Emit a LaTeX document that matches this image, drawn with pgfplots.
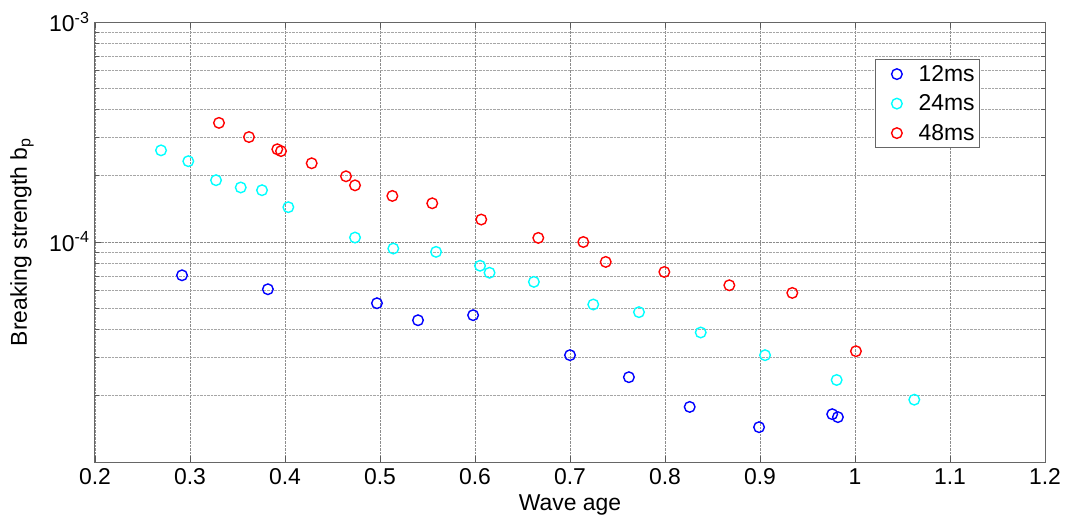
\documentclass[border=0pt]{standalone}
\usepackage{fontspec}
\setmainfont{Liberation Sans}
\usepackage{pgfplots}
\pgfplotsset{compat=1.18}
\definecolor{mblue}{rgb}{0,0,1}
\definecolor{mcyan}{rgb}{0,1,1}
\definecolor{mred}{rgb}{1,0,0}
\begin{document}
\begin{tikzpicture}
\begin{axis}[
  scale only axis,
  width=950bp, height=440bp,
  ymode=log,
  xmin=0.2, xmax=1.2, ymin=1e-5, ymax=1e-3,
  xtick={0.2,0.3,...,1.2},
  ytick={1e-5,1e-4,1e-3},
  yticklabels={,10\textsuperscript{-4},10\textsuperscript{-3}},
  /pgf/number format/assume math mode=true,
  font=\fontsize{23}{27}\selectfont,
  tick label style={font=\fontsize{23}{27}\selectfont},
  tick align=inside,
  major tick length=6bp, minor tick length=4bp,
  tick style={black!65, line width=0.8bp},
  axis line style={black!60, line width=1bp},
  grid=both,
  major grid style={densely dotted, black!45, line width=0.7bp},
  minor grid style={densely dotted, black!35, line width=0.7bp},
  every axis x label/.style={at={(axis description cs:0.5,0)}, yshift=-43bp, anchor=center},
  every axis y label/.style={at={(axis description cs:0,0.5)}, xshift=-73bp, anchor=center, rotate=90},
  xlabel={Wave age},
  ylabel={Breaking strength b\textsubscript{p}},
  xticklabel style={yshift=-3bp},
  yticklabel style={xshift=-2bp},
  legend style={at={(rel axis cs:0.9316,0.916)}, anchor=north east, draw=black!60, line width=0.8bp, fill=white, font=\fontsize{23}{27}\selectfont, row sep=8bp, inner xsep=3bp, inner ysep=4bp, nodes={inner sep=2bp}, column sep=0bp},
  legend cell align=left,
  legend image code/.code={\path (0bp,0bp) (37bp,0bp); \draw[#1] plot coordinates {(18bp,0bp)};},
  every axis plot/.append style={only marks, mark=o, mark size=5.3bp, line width=1.4bp},
]
\addplot[mblue] coordinates {
(0.2916,7.06e-5) (0.382,6.10e-5) (0.4968,5.27e-5) (0.540,4.41e-5) (0.598,4.65e-5)
(0.700,3.06e-5) (0.762,2.43e-5) (0.826,1.78e-5) (0.899,1.44e-5) (0.976,1.65e-5) (0.982,1.60e-5)
};
\addlegendentry{12ms}
\addplot[mcyan] coordinates {
(0.2695,2.61e-4) (0.2982,2.33e-4) (0.3274,1.91e-4) (0.3534,1.77e-4) (0.3758,1.72e-4)
(0.4035,1.44e-4) (0.4737,1.048e-4) (0.514,9.34e-5) (0.559,9.02e-5) (0.6053,7.80e-5)
(0.6153,7.25e-5) (0.662,6.59e-5) (0.7245,5.20e-5) (0.7726,4.80e-5) (0.8376,3.88e-5)
(0.9053,3.06e-5) (0.9807,2.36e-5) (1.0624,1.92e-5)
};
\addlegendentry{24ms}
\addplot[mred] coordinates {
(0.3305,3.48e-4) (0.3621,3.00e-4) (0.3919,2.64e-4) (0.3958,2.59e-4) (0.4281,2.28e-4)
(0.4642,1.99e-4) (0.4737,1.81e-4) (0.513,1.62e-4) (0.555,1.50e-4) (0.6066,1.265e-4)
(0.6666,1.044e-4) (0.714,1.00e-4) (0.7376,8.12e-5) (0.7993,7.31e-5) (0.8677,6.36e-5)
(0.934,5.87e-5) (1.001,3.19e-5)
};
\addlegendentry{48ms}
\end{axis}
\path ([shift={(-95bp,-58bp)}]current axis.south west) rectangle ([shift={(21bp,22bp)}]current axis.north east);
\end{tikzpicture}
\end{document}
